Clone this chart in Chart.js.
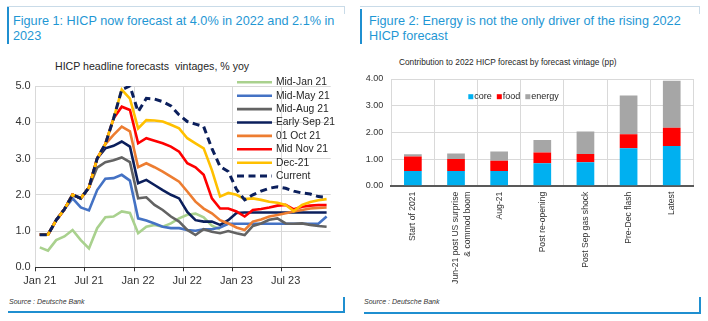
<!DOCTYPE html>
<html>
<head>
<meta charset="utf-8">
<script src="https://cdn.jsdelivr.net/npm/chart.js@4.4.0/dist/chart.umd.min.js"></script>
<style>
  body { margin: 0; background: #fff; width: 708px; height: 321px; position: relative; overflow: hidden;
         font-family: "Liberation Sans", Arial, sans-serif; }
  .abs { position: absolute; }
  .title { color: #1f97d4; font-size: 12.7px; line-height: 15px; white-space: nowrap; }
  .sub { color: #262626; white-space: pre; }
  .src { font-size: 7px; font-style: italic; color: #333; line-height: 9px; }
  .rule-top { height: 1px; background: #c9dbe8; }
  .rule-blue { background: #1f8fd0; }
</style>
</head>
<body>
<!-- frames -->
<div class="abs rule-top" style="left:7px;top:6px;width:338px"></div>
<div class="abs rule-top" style="left:344px;top:6px;width:1px;height:8px"></div>
<div class="abs rule-blue" style="left:7px;top:7px;width:2px;height:37px"></div>
<div class="abs rule-blue" style="left:8px;top:311px;width:336px;height:2px"></div>
<div class="abs rule-blue" style="left:343px;top:297px;width:2px;height:16px"></div>

<div class="abs rule-top" style="left:360px;top:6px;width:340px"></div>
<div class="abs rule-top" style="left:699px;top:6px;width:1px;height:8px"></div>
<div class="abs rule-blue" style="left:360px;top:9px;width:2px;height:35px"></div>
<div class="abs rule-blue" style="left:364px;top:312px;width:337px;height:2px"></div>
<div class="abs rule-blue" style="left:699px;top:297px;width:2px;height:17px"></div>

<div class="abs title" style="left:13px;top:14px">Figure 1: HICP now forecast at 4.0% in 2022 and 2.1% in<br>2023</div>
<div class="abs title" style="left:369px;top:14px">Figure 2: Energy is not the only driver of the rising 2022<br>HICP forecast</div>
<div class="abs sub" style="left:55px;top:60px;font-size:10.6px;line-height:12px">HICP headline forecasts  vintages, % yoy</div>
<div class="abs sub" style="left:399px;top:56.5px;font-size:8.3px;line-height:10px">Contribution to 2022 HICP forecast by forecast vintage (pp)</div>
<div class="abs src" style="left:9px;top:297px">Source : Deutsche Bank</div>
<div class="abs src" style="left:364px;top:297px">Source : Deutsche Bank</div>

<canvas id="hicpLines" class="abs" width="354" height="321" style="left:0;top:0"></canvas>
<canvas id="hicpBars" class="abs" width="354" height="321" style="left:354px;top:0"></canvas>

<script>
// --- monthly headline HICP forecasts (% yoy) by vintage ---
const months = [
  'Jan 21','Feb 21','Mar 21','Apr 21','May 21','Jun 21','Jul 21','Aug 21','Sep 21','Oct 21','Nov 21','Dec 21',
  'Jan 22','Feb 22','Mar 22','Apr 22','May 22','Jun 22','Jul 22','Aug 22','Sep 22','Oct 22','Nov 22','Dec 22',
  'Jan 23','Feb 23','Mar 23','Apr 23','May 23','Jun 23','Jul 23','Aug 23','Sep 23','Oct 23','Nov 23','Dec 23'
];
const vintages = ['Mid-Jan 21', 'Mid-May 21', 'Mid-Aug 21', 'Early Sep 21', '01 Oct 21', 'Mid Nov 21', 'Dec-21', 'Current'];

const midJan21 = [0.55, 0.46, 0.75, 0.85, 1.03, 0.75, 0.52, 1.08, 1.38, 1.40, 1.54, 1.50,
                  0.94, 1.12, 1.17, 1.12, 1.21, 1.35, 1.45, 1.48, 1.38, 1.15, 1.05, null,
                  null, null, null, null, null, null, null, null, null, null, null, null];
const midMay21 = [0.9, 0.9, 1.3, 1.6, 1.90, 1.65, 1.57, 2.13, 2.44, 2.46, 2.55, 2.39,
                  1.35, 1.29, 1.21, 1.12, 1.08, 1.08, 1.03, 1.01, 1.05, 1.05, 1.10, 1.20,
                  1.20, 1.20, 1.20, 1.20, 1.20, 1.20, 1.20, 1.20, 1.20, 1.20, 1.20, 1.40];
const midAug21 = [0.9, 0.9, 1.3, 1.6, 2.0, 1.9, 2.2, 2.75, 2.90, 2.95, 3.03, 2.90,
                  1.90, 1.93, 1.72, 1.58, 1.40, 1.26, 1.03, 0.89, 1.05, 0.98, 0.94, 1.00,
                  0.94, 0.89, 1.14, 1.21, 1.31, 1.35, 1.21, 1.20, 1.21, 1.17, 1.14, 1.12];
const earlySep21 = [0.9, 0.9, 1.3, 1.6, 2.0, 1.9, 2.2, 3.0, 3.28, 3.35, 3.47, 3.33,
                    2.32, 2.41, 2.27, 2.13, 2.00, 1.90, 1.53, 1.30, 1.26, 1.26, 1.17, 1.30,
                    1.50, 1.51, 1.51, 1.51, 1.51, 1.51, 1.51, 1.51, 1.51, 1.51, 1.51, 1.51];
const oct21 = [0.9, 0.9, 1.3, 1.6, 2.0, 1.9, 2.2, 3.0, 3.4, 3.65, 3.88, 3.75,
               2.76, 2.87, 2.76, 2.64, 2.50, 2.36, 2.09, 1.81, 1.62, 1.49, 1.30, 1.21,
               1.10, 1.03, 1.26, 1.32, 1.40, 1.44, 1.49, 1.54, 1.58, 1.62, 1.64, 1.65];
const midNov21 = [0.9, 0.9, 1.3, 1.6, 2.0, 1.9, 2.2, 3.0, 3.4, 4.1, 4.43, 4.34,
                  3.42, 3.56, 3.49, 3.42, 3.33, 3.19, 2.87, 2.76, 2.55, 1.90, 1.62, 1.62,
                  1.54, 1.40, 1.58, 1.61, 1.65, 1.70, 1.72, 1.60, 1.67, 1.70, 1.72, 1.72];
const dec21 = [0.9, 0.9, 1.3, 1.6, 2.0, 1.9, 2.2, 3.0, 3.4, 4.1, 4.9, 4.65,
               3.83, 4.06, 4.05, 4.02, 3.93, 3.83, 3.56, 3.42, 3.28, 2.68, 1.95, 2.05,
               2.00, 1.88, 1.90, 1.86, 1.81, 1.78, 1.72, 1.55, 1.72, 1.80, 1.85, 1.88];
const current = [0.9, 0.9, 1.3, 1.6, 2.0, 1.9, 2.2, 3.0, 3.4, 4.1, 4.9, 5.0,
                 4.29, 4.66, 4.64, 4.57, 4.45, 4.20, 4.02, 3.95, 3.88, 3.28, 2.78, 2.64,
                 2.15, 1.86, 2.00, 2.10, 2.18, 2.22, 2.18, 2.10, 2.05, 2.02, 1.95, 1.93];

const vintageSeries = [midJan21, midMay21, midAug21, earlySep21, oct21, midNov21, dec21, current];
const vintageColors = ['#a9d18e', '#4472c4', '#636363', '#0b1f5c', '#ed7d31', '#ff0000', '#ffc000', '#0b1f5c'];

// --- contribution to 2022 HICP forecast (pp) ---
const stages = ['Start of 2021', ['Jun-21 post US surprise', '& commod boom'], 'Aug-21',
                'Post re-opening', 'Post Sep gas shock', 'Pre-Dec flash', 'Latest'];
const core   = [0.55, 0.55, 0.55, 0.84, 0.88, 1.40, 1.49];
const food   = [0.54, 0.45, 0.39, 0.40, 0.31, 0.53, 0.68];
const energy = [0.09, 0.21, 0.34, 0.47, 0.84, 1.45, 1.76];

const FONT = '"Liberation Sans", Arial, sans-serif';
const GRID = '#d9d9d9';

// legend drawn inside the plot, one row per dataset
const lineLegend = {
  id: 'lineLegend',
  afterDraw(chart, args, opts) {
    const ctx = chart.ctx;
    ctx.save();
    ctx.font = `${opts.fontSize}px ${FONT}`;
    ctx.textBaseline = 'middle';
    chart.data.datasets.forEach((ds, i) => {
      const y = opts.y + i * opts.rowHeight;
      ctx.strokeStyle = ds.borderColor;
      ctx.lineWidth = ds.borderWidth;
      ctx.setLineDash(ds.borderDash || []);
      ctx.beginPath();
      ctx.moveTo(opts.x, y);
      ctx.lineTo(opts.x + opts.sample, y);
      ctx.stroke();
      ctx.fillStyle = '#262626';
      ctx.fillText(ds.label, opts.x + opts.sample + 4, y);
    });
    ctx.restore();
  }
};

const boxLegend = {
  id: 'boxLegend',
  afterDraw(chart, args, opts) {
    const ctx = chart.ctx;
    ctx.save();
    ctx.font = `${opts.fontSize}px ${FONT}`;
    ctx.textBaseline = 'middle';
    let x = opts.x;
    chart.data.datasets.forEach(ds => {
      ctx.fillStyle = ds.backgroundColor;
      ctx.fillRect(x, opts.y - 2.5, 5, 5);
      x += 6;
      ctx.fillStyle = '#262626';
      ctx.fillText(ds.label, x, opts.y);
      x += ctx.measureText(ds.label).width + 5;
    });
    ctx.restore();
  }
};

const every6 = (c, on, off) => (c.index % 6 === 0 ? on : off);

new Chart(document.getElementById('hicpLines'), {
  type: 'line',
  data: {
    labels: months,
    datasets: vintages.map((name, i) => ({
      label: name,
      data: vintageSeries[i],
      borderColor: vintageColors[i],
      borderWidth: name === 'Current' ? 3 : 2.6,
      borderDash: name === 'Current' ? [7, 4.5] : [],
      pointRadius: 0,
      tension: 0,
      spanGaps: false,
      order: vintages.length - 1 - i
    }))
  },
  options: {
    responsive: false,
    animation: false,
    layout: { padding: { top: 86, right: 23.3, bottom: 33.7, left: 0 } },
    plugins: {
      legend: { display: false },
      tooltip: { enabled: false },
      lineLegend: { x: 237, y: 82.3, rowHeight: 13.4, sample: 35, fontSize: 10.3 }
    },
    scales: {
      x: {
        type: 'category',
        offset: true,
        afterFit: s => { s.height = 20; },
        grid: {
          offset: true,
          color: c => every6(c, GRID, 'rgba(0,0,0,0)'),
          tickColor: c => every6(c, '#333', 'rgba(0,0,0,0)'),
          tickLength: 4
        },
        border: { color: '#333', width: 1 },
        ticks: {
          autoSkip: false, maxRotation: 0, minRotation: 0, padding: 3,
          color: '#333', font: { family: FONT, size: 11 },
          callback: (v, i) => (i % 6 === 0 ? months[i] : '')
        }
      },
      y: {
        min: 0, max: 5,
        afterFit: s => { s.width = 35.7; },
        grid: { color: GRID, drawTicks: false },
        border: { display: false },
        ticks: { stepSize: 1, padding: 5, color: '#333', font: { family: FONT, size: 11 },
                 callback: v => v.toFixed(1) }
      }
    }
  },
  plugins: [lineLegend]
});

new Chart(document.getElementById('hicpBars'), {
  type: 'bar',
  data: {
    labels: stages,
    datasets: [
      { label: 'core', data: core, backgroundColor: '#00b0f0' },
      { label: 'food', data: food, backgroundColor: '#ff0000' },
      { label: 'energy', data: energy, backgroundColor: '#a6a6a6' }
    ]
  },
  options: {
    responsive: false,
    animation: false,
    datasets: { bar: { categoryPercentage: 1, barPercentage: 0.41, borderWidth: 0 } },
    layout: { padding: { top: 79, right: 14.7, bottom: 35.3, left: 0 } },
    plugins: {
      legend: { display: false },
      tooltip: { enabled: false },
      boxLegend: { x: 114.3, y: 96.7, fontSize: 9 }
    },
    scales: {
      x: {
        stacked: true,
        afterFit: s => { s.height = 100; },
        grid: { color: GRID, drawTicks: false },
        border: { color: '#595959', width: 2 },
        ticks: {
          autoSkip: false, minRotation: 90, maxRotation: 90, padding: 6,
          color: '#333', font: { family: FONT, size: 8.6, lineHeight: 1.35 }
        }
      },
      y: {
        stacked: true,
        min: 0, max: 4,
        afterFit: s => { s.width = 37.3; },
        grid: { color: GRID, drawTicks: false },
        border: { display: false },
        ticks: { stepSize: 0.5, padding: 8, color: '#333', font: { family: FONT, size: 9 },
                 callback: v => v.toFixed(2) }
      }
    }
  },
  plugins: [boxLegend]
});
</script>
</body>
</html>
